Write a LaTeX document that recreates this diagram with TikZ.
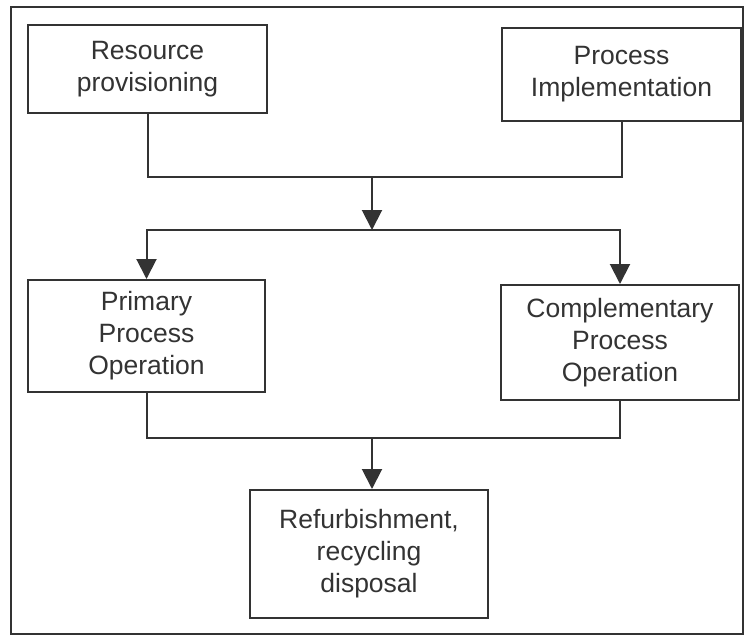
\documentclass[tikz,border=0pt]{standalone}
\usepackage{fontspec}
\setmainfont{Liberation Sans}
\usetikzlibrary{arrows.meta}
\definecolor{ink}{HTML}{333333}
\begin{document}
\begin{tikzpicture}[x=1pt,y=-1pt,
  box/.style={draw=ink,line width=2pt,fill=white,align=center,text=ink,
    font=\fontsize{26.5}{32}\selectfont,inner sep=0pt},
  conn/.style={draw=ink,line width=2pt},
  tri/.style={-{Triangle[width=20pt,length=20pt,fill=ink]}}]
\useasboundingbox (0,0) rectangle (745,638);
\draw[ink,line width=1.6pt] (11,7) rectangle (743,634);
\node[box,minimum width=239pt,minimum height=88pt] (res) at (147.5,69) {Resource\\provisioning};
\node[box,minimum width=239pt,minimum height=93pt] (pim) at (621.5,74.5) {Process\\Implementation};
\node[box,minimum width=237pt,minimum height=112pt] (ppo) at (146.5,336) {Primary\\Process\\Operation};
\node[box,minimum width=238pt,minimum height=115pt] (cpo) at (620,342.5) {Complementary\\Process\\Operation};
\node[box,minimum width=238pt,minimum height=128pt] (ref) at (369,554) {Refurbishment,\\recycling\\disposal};
\coordinate (j1) at (372,177);
\coordinate (j2) at (372,230);
\coordinate (j3) at (372,438);
\draw[conn] (res.south) |- (j1) -| (pim.south);
\draw[conn,tri] (j1) -- (j2);
\draw[conn,tri] (j2) -| (ppo.north);
\draw[conn,tri] (j2) -| (cpo.north);
\draw[conn] (ppo.south) |- (j3) -| (cpo.south);
\draw[conn,tri] (j3) -- (j3 |- ref.north);
\end{tikzpicture}
\end{document}
